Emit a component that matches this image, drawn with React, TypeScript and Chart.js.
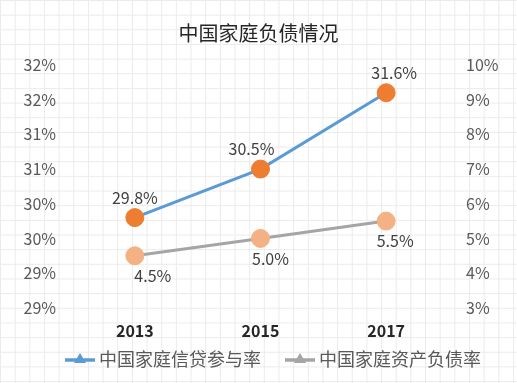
import React, { useEffect, useRef } from 'react';
import { Chart, registerables } from 'chart.js';

Chart.register(...registerables);

// ---- data ----
const chartTitle = '中国家庭负债情况';
const categories = ['2013', '2015', '2017'];
const seriesNames = ['中国家庭信贷参与率', '中国家庭资产负债率'];
const creditParticipation = [29.8, 30.5, 31.6]; // left axis, %
const assetLiabilityRatio = [4.5, 5.0, 5.5]; // right axis, %
const leftAxis = { min: 28.5, max: 32, step: 0.5 };
const rightAxis = { min: 3, max: 10, step: 1 };

// ---- styles ----
const FONT = '"Noto Sans CJK SC", "Noto Sans", sans-serif';
const labelOffsets = {
  dx: [
    [0, -9, 8],
    [18, 10, 9],
  ],
  dy: [-20, 20],
};
const legendStyle = { centerX: 273, centerY: 359, lineW: 30, gap: 4, itemGap: 24 };

const dataLabelPlugin = {
  id: 'pointLabels',
  afterDatasetsDraw(chart: any) {
    const ctx = chart.ctx;
    ctx.save();
    ctx.font = `16px ${FONT}`;
    ctx.fillStyle = '#404040';
    ctx.textAlign = 'center';
    ctx.textBaseline = 'middle';
    chart.data.datasets.forEach((ds: any, i: number) => {
      const meta = chart.getDatasetMeta(i);
      meta.data.forEach((pt: any, j: number) => {
        const v = ds.data[j] as number;
        ctx.fillText(v.toFixed(1) + '%', pt.x + labelOffsets.dx[i][j], pt.y + labelOffsets.dy[i]);
      });
    });
    ctx.restore();
  },
};

const legendPlugin = {
  id: 'customLegend',
  afterDraw(chart: any) {
    const ctx = chart.ctx;
    ctx.save();
    ctx.font = `18px ${FONT}`;
    const items = chart.data.datasets.map((ds: any) => ({
      text: ds.label,
      color: ds.borderColor,
      w: legendStyle.lineW + legendStyle.gap + ctx.measureText(ds.label).width,
    }));
    const total =
      items.reduce((a: number, it: any) => a + it.w, 0) + legendStyle.itemGap * (items.length - 1);
    let x = legendStyle.centerX - total / 2;
    const y = legendStyle.centerY;
    items.forEach((it: any) => {
      ctx.strokeStyle = it.color;
      ctx.fillStyle = it.color;
      ctx.lineWidth = 3.5;
      ctx.beginPath();
      ctx.moveTo(x, y + 1);
      ctx.lineTo(x + legendStyle.lineW, y + 1);
      ctx.stroke();
      const cx = x + legendStyle.lineW / 2;
      ctx.beginPath();
      ctx.moveTo(cx, y - 6);
      ctx.lineTo(cx + 6, y + 4);
      ctx.lineTo(cx - 6, y + 4);
      ctx.closePath();
      ctx.fill();
      ctx.fillStyle = '#595959';
      ctx.textAlign = 'left';
      ctx.textBaseline = 'middle';
      ctx.fillText(it.text, x + legendStyle.lineW + legendStyle.gap, y);
      x += it.w + legendStyle.itemGap;
    });
    ctx.restore();
  },
};

export default function App() {
  const canvasRef = useRef<HTMLCanvasElement | null>(null);

  useEffect(() => {
    if (!canvasRef.current) return;
    const chart = new Chart(canvasRef.current, {
      type: 'line',
      data: {
        labels: categories,
        datasets: [
          {
            label: seriesNames[0],
            data: creditParticipation,
            yAxisID: 'y',
            borderColor: '#5B9BD5',
            borderWidth: 3,
            pointRadius: 9,
            pointBackgroundColor: '#ED7D31',
            pointBorderColor: '#ED7D31',
            pointBorderWidth: 1,
            tension: 0,
          },
          {
            label: seriesNames[1],
            data: assetLiabilityRatio,
            yAxisID: 'y1',
            borderColor: '#A5A5A5',
            borderWidth: 3,
            pointRadius: 9,
            pointBackgroundColor: '#F4B183',
            pointBorderColor: '#F4B183',
            pointBorderWidth: 1,
            tension: 0,
          },
        ],
      },
      options: {
        responsive: false,
        animation: false,
        layout: { padding: { left: 0, right: 0, top: 0, bottom: 28 } },
        plugins: {
          legend: { display: false },
          tooltip: { enabled: false },
          title: {
            display: true,
            text: chartTitle,
            color: '#262626',
            font: { size: 20, family: FONT, weight: 'normal' },
            padding: { top: 21, bottom: 20 },
          },
        },
        scales: {
          x: {
            offset: true,
            grid: { display: false, drawTicks: false },
            border: { display: false },
            ticks: {
              color: '#262626',
              font: { size: 16, weight: 'bold', family: FONT },
              padding: 14,
            },
          },
          y: {
            position: 'left',
            min: leftAxis.min,
            max: leftAxis.max,
            grid: { display: false, drawTicks: false },
            border: { display: false },
            ticks: {
              stepSize: leftAxis.step,
              color: '#595959',
              font: { size: 16, family: FONT },
              padding: 16,
              callback: (v: any) => Math.round(Number(v)) + '%',
            },
            afterFit: (s: any) => {
              s.width = 72;
            },
          },
          y1: {
            position: 'right',
            min: rightAxis.min,
            max: rightAxis.max,
            grid: { display: false, drawTicks: false },
            border: { display: false },
            ticks: {
              stepSize: rightAxis.step,
              color: '#595959',
              font: { size: 16, family: FONT },
              padding: 17,
              callback: (v: any) => Math.round(Number(v)) + '%',
            },
            afterFit: (s: any) => {
              s.width = 68;
            },
          },
        },
      },
      plugins: [dataLabelPlugin, legendPlugin],
    });
    return () => chart.destroy();
  }, []);

  return (
    <div
      style={{
        position: 'absolute',
        left: 0,
        top: 0,
        width: 517,
        height: 383,
        backgroundColor: '#ffffff',
        backgroundImage:
          'linear-gradient(to right, #ebebeb 1px, transparent 1px), linear-gradient(to bottom, #ebebeb 1px, transparent 1px)',
        backgroundSize: '14.67px 14.67px',
      }}
    >
      <canvas ref={canvasRef} width={517} height={383} style={{ display: 'block' }} />
    </div>
  );
}
